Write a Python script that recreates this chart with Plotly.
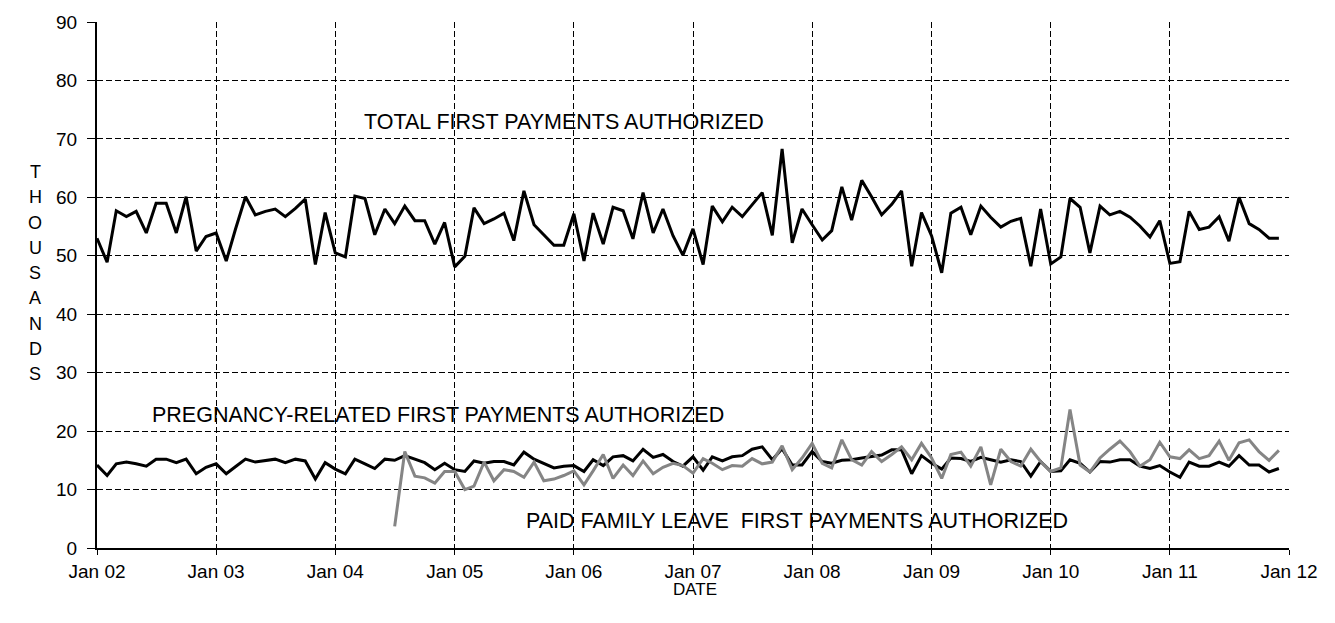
import plotly.graph_objects as go
import pandas as pd

months = pd.date_range("2002-01-01", "2011-12-01", freq="MS")

total = [53.0, 48.9, 57.7, 56.7, 57.6, 53.9, 59.0, 59.0, 53.9, 60.1, 50.8, 53.3,
         53.9, 49.1, 54.5, 60.1, 57.0, 57.6, 58.0, 56.7, 58.1, 59.7, 48.5, 57.4,
         50.5, 49.8, 60.2, 59.8, 53.6, 58.0, 55.5, 58.5, 56.0, 56.0, 52.0, 55.7,
         48.1, 49.9, 58.2, 55.5, 56.3, 57.3, 52.6, 61.1, 55.3, 53.6, 51.8, 51.8,
         57.2, 49.1, 57.3, 52.0, 58.3, 57.7, 52.9, 60.8, 53.9, 58.0, 53.4, 50.1,
         54.6, 48.5, 58.5, 55.8, 58.3, 56.7, 58.7, 60.8, 53.5, 68.3, 52.2, 58.0,
         55.3, 52.7, 54.3, 61.8, 56.1, 62.9, 60.1, 57.0, 58.8, 61.1, 48.2, 57.4,
         53.4, 47.1, 57.3, 58.3, 53.6, 58.5, 56.6, 54.9, 55.9, 56.4, 48.2, 58.0,
         48.6, 49.8, 59.8, 58.3, 50.5, 58.5, 57.0, 57.6, 56.6, 55.1, 53.2, 56.0,
         48.7, 49.0, 57.6, 54.5, 54.9, 56.7, 52.5, 60.0, 55.5, 54.5, 53.0, 53.0]

pregnancy = [14.2, 12.4, 14.4, 14.7, 14.4, 14.0, 15.2, 15.2, 14.6, 15.2, 12.7, 13.8,
             14.4, 12.7, 13.9, 15.2, 14.7, 14.9, 15.2, 14.6, 15.2, 14.9, 11.8, 14.6,
             13.5, 12.7, 15.2, 14.4, 13.6, 15.2, 15.0, 15.8, 15.2, 14.6, 13.4, 14.5,
             13.4, 13.1, 14.9, 14.5, 14.8, 14.8, 14.2, 16.4, 15.2, 14.5, 13.7, 14.0,
             14.1, 13.1, 15.1, 14.1, 15.6, 15.8, 14.9, 16.9, 15.5, 16.0, 14.8, 14.0,
             15.6, 13.3, 15.6, 14.9, 15.6, 15.8, 16.9, 17.3, 15.1, 17.0, 14.2, 14.2,
             16.5, 14.8, 14.5, 15.0, 15.1, 15.4, 15.6, 15.9, 16.8, 16.8, 12.7, 15.8,
             14.5, 13.5, 15.4, 15.3, 14.8, 15.5, 15.1, 14.7, 15.1, 14.8, 12.3, 14.8,
             13.1, 13.2, 15.1, 14.5, 13.0, 14.8, 14.7, 15.1, 15.1, 14.0, 13.6, 14.1,
             13.0, 12.1, 14.7, 14.0, 14.0, 14.7, 14.0, 15.8, 14.2, 14.2, 13.0, 13.6]

# Paid Family Leave starts July 2004
pfl = [3.7, 16.5, 12.3, 12.0, 11.1, 13.1,
       13.1, 10.0, 10.6, 14.7, 11.5, 13.4, 13.1, 12.1, 14.7, 11.5, 11.8, 12.4,
       13.2, 10.8, 13.2, 16.0, 11.9, 14.2, 12.4, 14.9, 12.7, 13.8, 14.5, 14.1,
       12.8, 15.3, 14.5, 13.4, 14.1, 14.0, 15.3, 14.4, 14.7, 17.5, 13.4, 15.4,
       17.9, 14.5, 13.7, 18.5, 15.1, 14.2, 16.5, 14.8, 16.0, 17.3, 15.1, 17.9,
       15.4, 11.9, 16.0, 16.4, 14.0, 17.3, 10.8, 16.9, 14.8, 14.0, 16.9, 14.8,
       13.1, 13.7, 23.7, 14.2, 13.0, 15.4, 16.9, 18.3, 16.5, 14.0, 15.1, 18.1,
       15.6, 15.3, 16.8, 15.3, 15.8, 18.3, 15.0, 18.0, 18.5, 16.5, 15.0, 16.7]
pfl_months = months[30:]

tick_dates = pd.date_range("2002-01-01", "2012-01-01", freq="YS")
tick_text = ["Jan 02", "Jan 03", "Jan 04", "Jan 05", "Jan 06", "Jan 07",
             "Jan 08", "Jan 09", "Jan 10", "Jan 11", "Jan 12"]
y_ticks = [0, 10, 20, 30, 40, 50, 60, 70, 80, 90]

FONT = "Arial, 'Liberation Sans', sans-serif"
L, R, T, B = 97, 1289, 16, 548
PW, PH = R - L, B - T


def px(xp):
    return (xp - L) / PW


def py(yp):
    return (B - yp) / PH


fig = go.Figure()
fig.add_trace(go.Scatter(x=months, y=total, mode="lines",
                         line=dict(color="black", width=3), showlegend=False))
fig.add_trace(go.Scatter(x=months, y=pregnancy, mode="lines",
                         line=dict(color="black", width=3), showlegend=False))
fig.add_trace(go.Scatter(x=pfl_months, y=pfl, mode="lines",
                         line=dict(color="#858585", width=3), showlegend=False))

labels = [
    ("TOTAL FIRST PAYMENTS AUTHORIZED", 564, 117),
    ("PREGNANCY-RELATED FIRST PAYMENTS AUTHORIZED", 438, 413),
    ("PAID FAMILY LEAVE  FIRST PAYMENTS AUTHORIZED", 797, 521),
]
anns = []
for text, xx, yy in labels:
    anns.append(dict(text=text, x=px(xx), y=py(yy), xref="paper", yref="paper",
                     showarrow=False, xanchor="center", yanchor="middle",
                     font=dict(family=FONT, size=21.5, color="black")))
for i, ch in enumerate("THOUSANDS"):
    anns.append(dict(text=ch, x=px(35), y=py(168 + i * 25.5),
                     xref="paper", yref="paper", showarrow=False,
                     xanchor="center", yanchor="middle",
                     font=dict(family=FONT, size=18, color="black")))
anns.append(dict(text="DATE", x=px(695), y=py(590), xref="paper", yref="paper",
                 showarrow=False, xanchor="center", yanchor="middle",
                 font=dict(family=FONT, size=17, color="black")))

fig.update_layout(
    width=1335, height=623,
    margin=dict(l=L, r=1335 - R, t=T, b=623 - B),
    paper_bgcolor="white", plot_bgcolor="white",
    font=dict(family=FONT, size=19, color="black"),
    annotations=anns,
    xaxis=dict(range=["2002-01-01", "2012-01-01"], tickvals=tick_dates, ticktext=tick_text,
               showgrid=True, gridcolor="black", gridwidth=1, griddash="6px,3px",
               showline=True, linecolor="black", linewidth=2,
               ticks="outside", ticklen=5, tickcolor="black",
               tickfont=dict(family=FONT, size=19), zeroline=False),
    yaxis=dict(range=[0, 90], tickvals=y_ticks,
               showgrid=True, gridcolor="black", gridwidth=1, griddash="6px,3px",
               showline=True, linecolor="black", linewidth=2,
               ticks="outside", ticklen=8, tickcolor="black", ticklabelstandoff=6,
               tickfont=dict(family=FONT, size=19), zeroline=False),
)

fig.write_html("out.html", config={"displayModeBar": False},
               post_script="document.body.style.margin='0';document.body.style.overflow='hidden';")
